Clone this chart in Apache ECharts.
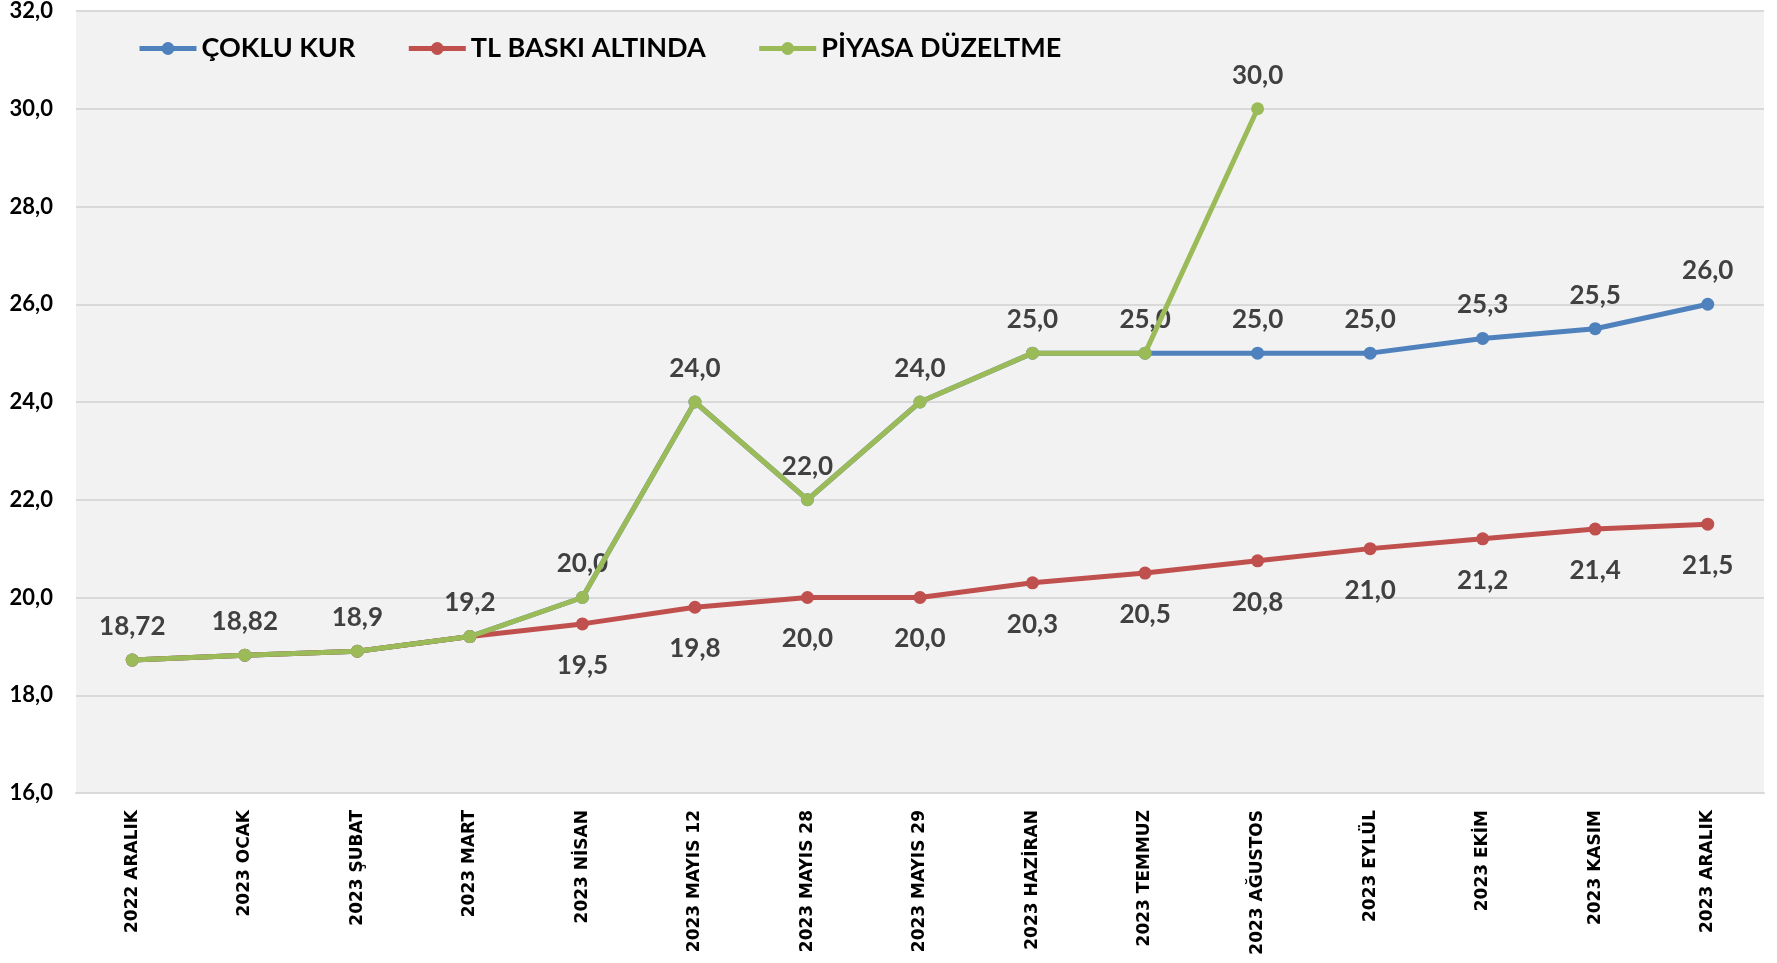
<!DOCTYPE html>
<html>
<head>
<meta charset="utf-8">
<script src="https://cdn.jsdelivr.net/npm/echarts@6/dist/echarts.min.js"></script>
<style>
html,body{margin:0;padding:0;background:#fff;}
#chart{width:1777px;height:963px;}
</style>
</head>
<body>
<div id="chart"></div>
<script>
const categories = ["2022 ARALIK","2023 OCAK","2023 ŞUBAT","2023 MART","2023 NİSAN","2023 MAYIS 12","2023 MAYIS 28","2023 MAYIS 29","2023 HAZİRAN","2023 TEMMUZ","2023 AĞUSTOS","2023 EYLÜL","2023 EKİM","2023 KASIM","2023 ARALIK"];
const cokluKur = [18.72,18.82,18.9,19.2,20,24,22,24,25,25,25,25,25.3,25.5,26];
const tlBaski = [18.72,18.82,18.9,19.2,19.46,19.8,20,20,20.3,20.5,20.75,21,21.2,21.4,21.5];
const piyasa = [18.72,18.82,18.9,19.2,20,24,22,24,25,25,30,null,null,null,null];
const seriesNames = ["ÇOKLU KUR","TL BASKI ALTINDA","PİYASA DÜZELTME"];
const yTicks = {min:16, max:32, interval:2};

function fmtKeep(v){
  const s = String(v);
  const dec = s.includes('.') ? s.split('.')[1].length : 0;
  return v.toFixed(Math.max(1, dec)).replace('.', ',');
}
function fmt1(v){ return v.toFixed(1).replace('.', ','); }

const labelFont = {fontFamily:'Lato', fontWeight:'bold', fontSize:26, color:'#404040'};

const chart = echarts.init(document.getElementById('chart'));
chart.setOption({
  animation:false,
  backgroundColor:'#ffffff',
  color:['#4F81BD','#C0504D','#9BBB59'],
  grid:{left:76,right:13,top:11,bottom:170,show:true,backgroundColor:'#F2F2F2',borderWidth:0},
  legend:{
    left:132, top:30,
    itemWidth:57, itemHeight:16, itemGap:51,
    lineStyle:{width:5},
    textStyle:{fontFamily:'Lato',fontWeight:'bold',fontSize:27,color:'#000'},
    data:seriesNames
  },
  xAxis:{
    type:'category', data:categories, boundaryGap:true,
    axisLine:{show:true,lineStyle:{color:'#D9D9D9',width:2}},
    axisTick:{show:false},
    axisLabel:{rotate:90, interval:0, margin:17, fontFamily:'DejaVu Sans', fontWeight:'bold', fontSize:17, color:'#000'}
  },
  yAxis:{
    type:'value', min:yTicks.min, max:yTicks.max, interval:yTicks.interval,
    axisLine:{show:false}, axisTick:{show:false},
    splitLine:{lineStyle:{color:'#D9D9D9',width:2}},
    axisLabel:{margin:23, fontFamily:'Lato', fontWeight:'bold', fontSize:22, color:'#000', formatter:v=>fmt1(v)}
  },
  series:[
    {
      name:seriesNames[0], type:'line', data:cokluKur, z:2,
      symbol:'circle', symbolSize:13, lineStyle:{width:5},
      label:{show:true, position:'top', distance:14, ...labelFont, formatter:p=>fmtKeep(p.value)}
    },
    {
      name:seriesNames[1], type:'line', z:3,
      data:tlBaski.map((v,i)=>({value:v, label:{show:i>=4}})),
      symbol:'circle', symbolSize:13, lineStyle:{width:5},
      label:{position:'bottom', distance:22, ...labelFont, formatter:p=>fmt1(p.value)}
    },
    {
      name:seriesNames[2], type:'line', z:4,
      data:piyasa.map((v,i)=>({value:v, label:{show:v!==null && v>=30}})),
      symbol:'circle', symbolSize:13, lineStyle:{width:5},
      label:{position:'top', distance:14, ...labelFont, formatter:p=>fmt1(p.value)}
    }
  ]
});
</script>
</body>
</html>
